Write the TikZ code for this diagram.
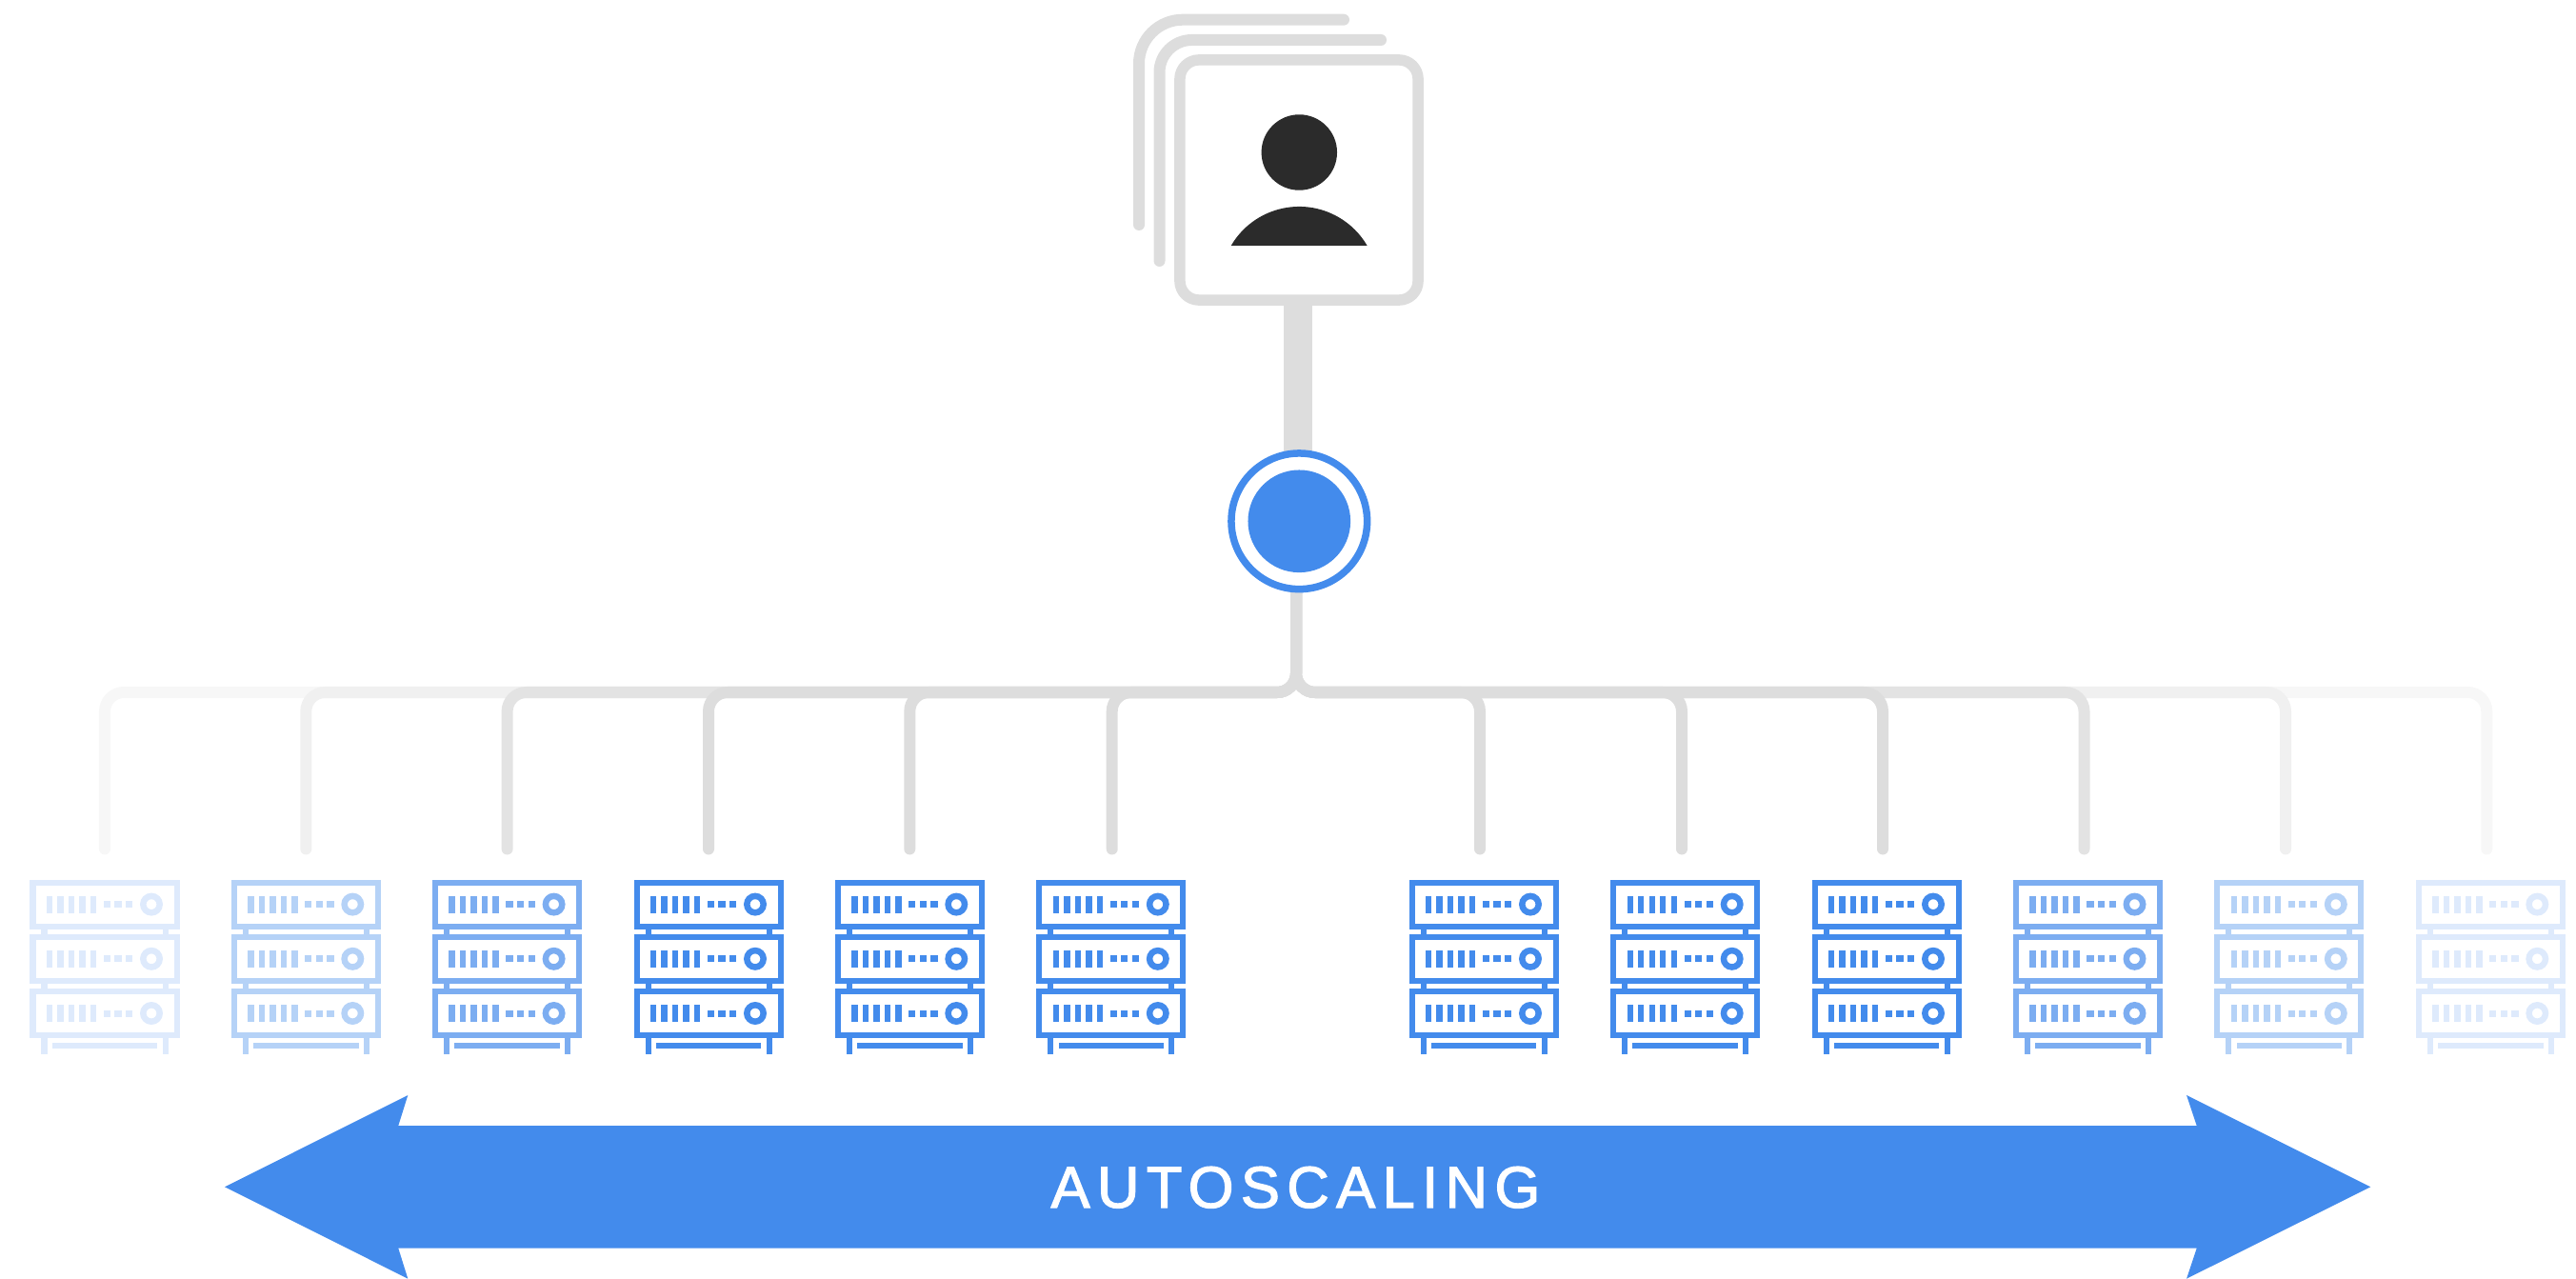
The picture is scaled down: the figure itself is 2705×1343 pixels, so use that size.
\documentclass[tikz,border=0pt]{standalone}
\usepackage{fontspec}
\newfontfamily\bannerfont[LetterSpace=12,FakeBold=2]{Liberation Sans}
\usetikzlibrary{calc,backgrounds}

\definecolor{gblue}{HTML}{438BEC}
\definecolor{gblueB}{HTML}{7CADF1}
\definecolor{gblueC}{HTML}{B5D2F7}
\definecolor{gblueD}{HTML}{DEEAFC}
\definecolor{wire}{HTML}{DDDDDD}
\definecolor{wireB}{HTML}{E3E3E3}
\definecolor{wireC}{HTML}{F0F0F0}
\definecolor{wireD}{HTML}{F7F7F7}
\definecolor{ink}{HTML}{2B2B2B}

\tikzset{
  card/.style={draw=wire,fill=white,line width=0.115cm,rounded corners=0.2cm,
    minimum width=2.5cm,minimum height=2.52cm,inner sep=0pt,outer sep=0pt},
  sheet/.style={draw=wire,line width=0.12cm,line cap=round},
  trunk/.style={draw=wire,line width=0.3cm},
  branch/.style={line width=0.12cm,line cap=round,rounded corners=0.2cm},
  hubring/.style={circle,draw=gblue,fill=white,line width=0.075cm,
    minimum size=1.426cm,inner sep=0pt,outer sep=0pt},
  hubcore/.style={circle,fill=gblue,minimum size=1.076cm,inner sep=0pt},
  rackbox/.style={rectangle,minimum width=1.566cm,minimum height=1.827cm,
    inner sep=0pt,outer sep=0pt},
  rackline/.style={line width=0.06cm},
}

% one slot of a rack: #1 = middle of the slot, #2 = colour
\newcommand{\rackslot}[2]{
  \draw[rackline,color=#2] (-75.5,#1-22.9) rectangle (75.5,#1+22.9);
  \fill[#2] (-61.2,#1-9) rectangle (-54.8,#1+9);
  \fill[#2] (-49.7,#1-9) rectangle (-43.3,#1+9);
  \fill[#2] (-38.2,#1-9) rectangle (-31.8,#1+9);
  \fill[#2] (-26.7,#1-9) rectangle (-20.3,#1+9);
  \fill[#2] (-15.2,#1-9) rectangle (-8.8,#1+9);
  \fill[#2] (-1.2,#1-3.5) rectangle (6,#1+3.5);
  \fill[#2] (10.4,#1-3.5) rectangle (17.6,#1+3.5);
  \fill[#2] (22.1,#1-3.5) rectangle (29.3,#1+3.5);
  \draw[line width=0.065cm,color=#2] (49,#1) circle (8.7);
}

% whole rack: #1 = node name, #2 = middle x, #3 = colour
\newcommand{\serverrack}[3]{
  \node[rackbox] (#1) at (#2,1015.3) {};
  \begin{scope}[shift={(#2,0)}]
    \rackslot{949.6}{#3}
    \rackslot{1006.8}{#3}
    \rackslot{1064}{#3}
    % stubs between slots, legs and base bar
    \draw[rackline,color=#3] (-63.5,972.5) -- (-63.5,984);
    \draw[rackline,color=#3] (63.5,972.5) -- (63.5,984);
    \draw[rackline,color=#3] (-63.5,1029.7) -- (-63.5,1041);
    \draw[rackline,color=#3] (63.5,1029.7) -- (63.5,1041);
    \draw[rackline,color=#3] (-63.5,1086.9) -- (-63.5,1106.7);
    \draw[rackline,color=#3] (63.5,1086.9) -- (63.5,1106.7);
    \fill[#3] (-55.3,1095) rectangle (55.3,1101);
  \end{scope}
}

\begin{document}
\begin{tikzpicture}[x=0.01cm,y=-0.01cm]
  \useasboundingbox (0,0) rectangle (2705,1343);

  % nodes
  \node[card] (user) at (1364,189) {};
  \node[circle,fill=ink,minimum size=0.794cm,inner sep=0pt] (head) at (1364.3,160) {};
  \fill[ink] (1292.7,258) arc[start angle=210.3,end angle=329.7,radius=82.8] -- cycle;
  \node[hubring] (hub) at (1364.3,547.3) {};
  \node[hubcore] (hubdot) at (hub) {};

  % sheets behind the card
  \coordinate (sheetB) at (1217.5,274);
  \coordinate (sheetBend) at (1450,42);
  \coordinate (sheetA) at (1196,236);
  \coordinate (sheetAend) at (1411,20.7);
  \draw[sheet,rounded corners=0.46cm] (sheetA) |- (sheetAend);
  \draw[sheet,rounded corners=0.34cm] (sheetB) |- (sheetBend);

  % routine for racks
  \serverrack{rackA}{110}{gblueD}
  \serverrack{rackB}{321.3}{gblueC}
  \serverrack{rackC}{532.6}{gblueB}
  \serverrack{rackD}{744}{gblue}
  \serverrack{rackE}{955.3}{gblue}
  \serverrack{rackF}{1166.8}{gblue}
  \serverrack{rackG}{1558}{gblue}
  \serverrack{rackH}{1769.7}{gblue}
  \serverrack{rackI}{1981}{gblue}
  \serverrack{rackJ}{2192.5}{gblueB}
  \serverrack{rackK}{2403.8}{gblueC}
  \serverrack{rackL}{2615.3}{gblueD}

  % free ends of the wires
  \coordinate (fork) at (1361,727);
  \coordinate (stem) at (hub.south -| fork);
  \coordinate (neck) at (1362.7,300);
  \coordinate (dropA) at (110,891.5);
  \coordinate (dropB) at (321.3,891.5);
  \coordinate (dropC) at (532.6,891.5);
  \coordinate (dropD) at (744,891.5);
  \coordinate (dropE) at (955.3,891.5);
  \coordinate (dropF) at (1167.7,891.5);
  \coordinate (dropG) at (1554,891.5);
  \coordinate (dropH) at (1766,891.5);
  \coordinate (dropI) at (1977,891.5);
  \coordinate (dropJ) at (2188.5,891.5);
  \coordinate (dropK) at (2400,891.5);
  \coordinate (dropL) at (2611.3,891.5);

  \begin{scope}[on background layer]
    \draw[trunk] (neck) -- (neck |- hub.north);
    % palest wires first
    \draw[branch,color=wireD] (stem) -- (fork) -| (dropA);
    \draw[branch,color=wireD] (stem) -- (fork) -| (dropL);
    \draw[branch,color=wireC] (stem) -- (fork) -| (dropB);
    \draw[branch,color=wireC] (stem) -- (fork) -| (dropK);
    \draw[branch,color=wireB] (stem) -- (fork) -| (dropC);
    \draw[branch,color=wireB] (stem) -- (fork) -| (dropJ);
    \draw[branch,color=wire] (stem) -- (fork) -| (dropD);
    \draw[branch,color=wire] (stem) -- (fork) -| (dropE);
    \draw[branch,color=wire] (stem) -- (fork) -| (dropF);
    \draw[branch,color=wire] (stem) -- (fork) -| (dropG);
    \draw[branch,color=wire] (stem) -- (fork) -| (dropH);
    \draw[branch,color=wire] (stem) -- (fork) -| (dropI);
  \end{scope}

  % double arrow
  \fill[gblue] (236,1246.3) -- (428.3,1150) -- (418.3,1182) -- (2306.7,1182)
    -- (2296,1150) -- (2489.3,1246.3) -- (2296,1342.7) -- (2306.7,1310.7)
    -- (418.3,1310.7) -- (428.3,1342.7) -- cycle;
  \node[anchor=base,text=white,font=\bannerfont\fontsize{17.5pt}{20pt}\selectfont,inner sep=0pt] (banner) at (1360.5,1268) {AUTOSCALING};
\end{tikzpicture}
\end{document}
